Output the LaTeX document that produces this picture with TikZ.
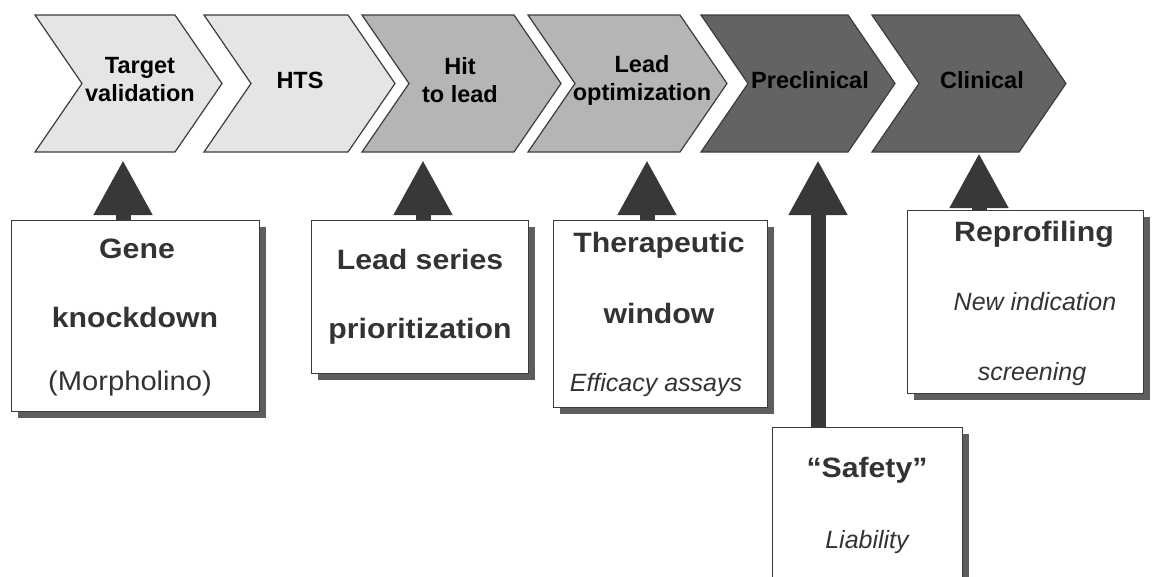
\documentclass[tikz,border=0pt]{standalone}
\usepackage{fontspec}
\setmainfont{Liberation Sans}
\newfontfamily\boxfont[FakeStretch=1.08]{Liberation Sans}
\usetikzlibrary{arrows.meta,shadows}

\definecolor{stagelight}{HTML}{E5E5E5}
\definecolor{stagemid}{HTML}{B5B5B5}
\definecolor{stagedark}{HTML}{636363}
\definecolor{edgegray}{HTML}{3C3C3C}
\definecolor{arrowgray}{HTML}{383838}
\definecolor{shadowgray}{HTML}{5E5E5E}
\definecolor{textgray}{HTML}{333333}

\begin{document}
\begin{tikzpicture}[x=1pt,y=-1pt,
    stage/.style={draw=edgegray,line width=1.2pt,line join=miter},
    stagetext/.style={font=\fontsize{23.5}{28}\selectfont\bfseries,align=center,inner sep=0pt},
    panel/.style={draw=edgegray,line width=1.3pt,fill=white,anchor=north west,inner sep=0pt,
      drop shadow={shadow xshift=6pt,shadow yshift=-6pt,fill=shadowgray,opacity=1}},
    head/.style={font=\boxfont\fontsize{28}{28}\selectfont\bfseries,text=textgray,anchor=base,inner sep=0pt},
    plain/.style={font=\boxfont\fontsize{27}{27}\selectfont,text=textgray,anchor=base,inner sep=0pt},
    note/.style={font=\fontsize{25}{25}\selectfont\itshape,text=textgray,anchor=base,inner sep=0pt},
    uparrow/.style={draw=arrowgray,line width=15pt,-{Triangle[length=55pt,width=55pt]}}]
  \clip (0,0) rectangle (1154,576);

  % pipeline stages
  \foreach \nm/\lx/\rx/\col/\tx/\lab in {
      tv/35/175/stagelight/140/{Target\\validation},
      hts/204/348/stagelight/300/HTS,
      hl/362/514/stagemid/460/{Hit\\to lead},
      lo/528/680/stagemid/642/{Lead\\optimization},
      pc/701/848/stagedark/810/Preclinical,
      cl/872/1019/stagedark/982/Clinical}
  {
    \filldraw[stage,fill=\col] (\lx,15) -- (\rx,15) -- (\rx+47,83.5) -- (\rx,152)
      -- (\lx,152) -- (\lx+47,83.5) -- cycle;
    \node[stagetext] (\nm) at (\tx,80) {\lab};
  }

  % zebrafish assays
  \node[panel,minimum width=248pt,minimum height=191pt] (kd) at (11,220) {};
  \node[head] (kd1) at (137,258) {Gene};
  \node[head] (kd2) at (135,327) {knockdown};
  \node[plain] (kd3) at (130,390) {(Morpholino)};

  \node[panel,minimum width=217pt,minimum height=153pt] (ls) at (311,220) {};
  \node[head] (ls1) at (420,269) {Lead series};
  \node[head] (ls2) at (420,338) {prioritization};

  \node[panel,minimum width=214pt,minimum height=187pt] (tw) at (553,220) {};
  \node[head] (tw1) at (659,252) {Therapeutic};
  \node[head] (tw2) at (659,323) {window};
  \node[note] (tw3) at (656,391) {Efficacy assays};

  \node[panel,minimum width=190pt,minimum height=200pt] (sf) at (772,427) {};
  \node[head] (sf1) at (867,477) {“Safety”};
  \node[note] (sf2) at (867,548) {Liability};

  \node[panel,minimum width=236pt,minimum height=183pt] (rp) at (907,210) {};
  \node[head] (rp1) at (1034,241) {Reprofiling};
  \node[note] (rp2) at (1035,310) {New indication};
  \node[note] (rp3) at (1032,380) {screening};

  % arrows up to the stages
  \coordinate (a1) at (123,160);
  \coordinate (a2) at (423,160);
  \coordinate (a3) at (647,160);
  \coordinate (a4) at (818,160);
  \coordinate (a5) at (979,153);
  \draw[uparrow] (kd.north -| a1) -- (a1);
  \draw[uparrow] (ls.north -| a2) -- (a2);
  \draw[uparrow] (tw.north -| a3) -- (a3);
  \draw[uparrow] (sf.north -| a4) -- (a4);
  \draw[uparrow] (rp.north -| a5) -- (a5);
\end{tikzpicture}
\end{document}
